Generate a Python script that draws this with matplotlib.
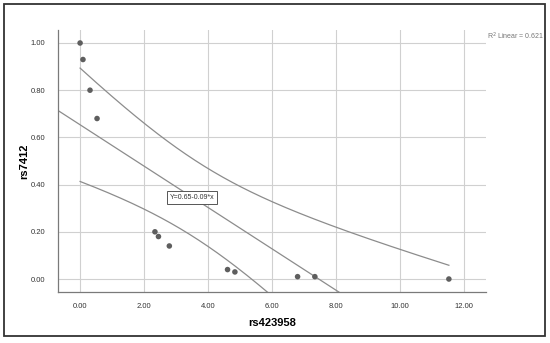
import matplotlib.pyplot as plt
from matplotlib.patches import Rectangle
import numpy as np

plt.rcParams['font.family'] = ['Liberation Sans', 'DejaVu Sans']

# values
rs423958 = [0.00, 0.09, 0.31, 0.53, 2.34, 2.45, 2.79, 4.61, 4.84, 6.80, 7.34, 11.53]
rs7412 = [1.00, 0.93, 0.80, 0.68, 0.20, 0.18, 0.14, 0.04, 0.03, 0.01, 0.01, 0.00]
xticks = [0, 2, 4, 6, 8, 10, 12]
yticks = [0.0, 0.2, 0.4, 0.6, 0.8, 1.0]
eq_label = "Y=0.65-0.09*x"
r2_label = "R$^2$ Linear = 0.621"
T_CRIT = 2.228  # t(0.975, df=10)

x = np.array(rs423958)
y = np.array(rs7412)
slope, intercept = np.polyfit(x, y, 1)
n = len(x)
resid = y - (intercept + slope * x)
s = np.sqrt(np.sum(resid ** 2) / (n - 2))
sxx = np.sum((x - x.mean()) ** 2)

fig = plt.figure(figsize=(5.5, 3.43), dpi=100)
ax = fig.add_axes([0.1055, 0.1487, 0.7781, 0.7638])

xlim = (-0.69, 12.69)
ax.set_xlim(xlim)
ax.set_ylim(-0.055, 1.055)

# fit line across whole plot
xl = np.linspace(xlim[0], xlim[1], 50)
ax.plot(xl, intercept + slope * xl, color='#8c8c8c', lw=0.9, zorder=2)

# 95% CI of the mean
xc = np.linspace(x.min(), x.max(), 200)
yc = intercept + slope * xc
half = T_CRIT * s * np.sqrt(1 / n + (xc - x.mean()) ** 2 / sxx)
ax.plot(xc, yc + half, color='#8c8c8c', lw=0.9, zorder=2)
ax.plot(xc, yc - half, color='#8c8c8c', lw=0.9, zorder=2)

ax.scatter(x, y, s=16, color='#5e5e5e', edgecolors='none', zorder=3)

ax.set_xticks(xticks)
ax.set_xticklabels([f"{v:.2f}" for v in xticks])
ax.set_yticks(yticks)
ax.set_yticklabels([f"{v:.2f}" for v in yticks])
ax.tick_params(length=0, labelsize=5.5, labelcolor='#333333', pad=8)
ax.tick_params(axis='y', pad=9)
ax.grid(True, color='#d0d0d0', lw=0.8)
ax.set_axisbelow(True)
for side in ['top', 'right']:
    ax.spines[side].set_visible(False)
for side in ['left', 'bottom']:
    ax.spines[side].set_color('#7a7a7a')
    ax.spines[side].set_linewidth(0.9)

ax.set_xlabel("rs423958", fontsize=8, fontweight='bold', labelpad=6)
ax.set_ylabel("rs7412", fontsize=8, fontweight='bold')
ax.yaxis.set_label_coords(-0.068, 0.5)

ax.text(3.5, 0.345, eq_label, fontsize=5, ha='center', va='center', color='#333333',
        bbox=dict(boxstyle='square,pad=0.4', fc='white', ec='#555555', lw=0.7), zorder=4)

fig.text(0.886, 0.895, r2_label, fontsize=5, color='#777777', ha='left', va='center')

fig.patches.append(Rectangle((0.0073, 0.0204), 0.9836, 0.968, transform=fig.transFigure,
                             fill=False, ec='#333333', lw=1.3))

fig.savefig("out.png", dpi=100)
